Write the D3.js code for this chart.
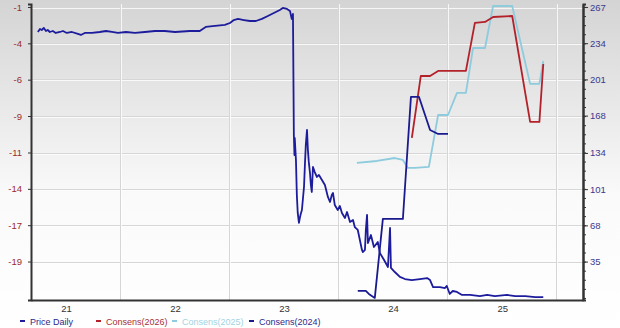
<!doctype html>
<html>
  <head>
    <script src="https://cdnjs.cloudflare.com/ajax/libs/d3/7.8.5/d3.min.js"></script>
    <style>
      body { margin: 0; }
      svg { display: block; font-family: "Liberation Sans", Arial, sans-serif; }
      .grid line { stroke: #d6d6d6; stroke-width: 1; }
      .grid line.hi { stroke: #ffffff; stroke-width: 1; opacity: 0.8; }
      .axis path, .axis line { stroke: #333; }
      .axis path { stroke-width: 2; }
      .axis text { font-size: 9.5px; }
      .left text { fill: #9a2b2b; }
      .right text { fill: #3a3a8e; }
      .bottom text { fill: #333; }
      path.series { fill: none; stroke-width: 1.8; stroke-linejoin: round; }
      .legend text { font-size: 9px; }
    </style>
  </head>
  <body>
    <svg width="620" height="328"></svg>
    <script>
      // price daily (right axis)
      var priceDaily = [
        ["2020-09-29",244.2],["2020-10-06",246.9],["2020-10-12",246.0],["2020-10-19",247.9],
        ["2020-10-26",245.1],["2020-11-01",246.0],["2020-11-08",244.2],["2020-11-18",245.1],
        ["2020-11-28",243.3],["2020-12-12",244.2],["2020-12-22",245.1],["2021-01-04",243.3],
        ["2021-01-21",244.2],["2021-02-10",242.4],["2021-02-20",241.5],["2021-03-05",243.3],
        ["2021-03-29",243.3],["2021-04-24",244.2],["2021-05-15",245.1],["2021-06-04",244.2],
        ["2021-06-24",243.3],["2021-07-21",244.2],["2021-08-20",243.3],["2021-09-22",244.2],
        ["2021-10-26",245.1],["2021-11-28",245.1],["2022-01-01",244.2],["2022-02-20",245.1],
        ["2022-03-25",245.1],["2022-04-14",248.8],["2022-05-15",249.7],["2022-06-17",250.6],
        ["2022-07-04",252.4],["2022-07-17",255.1],["2022-07-31",256.1],["2022-08-20",255.1],
        ["2022-09-09",254.2],["2022-09-29",254.2],["2022-10-19",256.1],["2022-11-08",258.8],
        ["2022-11-28",261.5],["2022-12-18",264.3],["2022-12-28",266.1],["2023-01-11",265.2],
        ["2023-01-21",263.4],["2023-01-24",259.7],["2023-01-27",256.1],["2023-01-31",260.6],
        ["2023-02-03",150.4],["2023-02-05",132.1],["2023-02-06",147.6],["2023-02-10",127.6],
        ["2023-02-13",95.7],["2023-02-16",79.3],["2023-02-20",70.2],["2023-02-23",74.7],
        ["2023-02-26",78.4],["2023-03-02",82.0],["2023-03-05",91.1],["2023-03-09",103.0],
        ["2023-03-12",123.0],["2023-03-15",141.2],["2023-03-19",154.9],["2023-03-22",136.7],
        ["2023-03-25",125.8],["2023-03-29",115.7],["2023-04-01",104.8],["2023-04-04",98.4],
        ["2023-04-08",121.2],["2023-04-14",116.6],["2023-04-21",112.1],["2023-04-28",113.9],
        ["2023-05-08",109.4],["2023-05-18",104.8],["2023-05-28",93.9],["2023-06-04",89.3],
        ["2023-06-10",95.7],["2023-06-14",97.5],["2023-06-20",86.6],["2023-06-30",82.0],
        ["2023-07-07",85.7],["2023-07-14",79.3],["2023-07-24",74.7],["2023-07-31",80.2],
        ["2023-08-10",71.1],["2023-08-20",72.9],["2023-08-26",66.5],["2023-09-05",63.8],
        ["2023-09-12",54.7],["2023-09-19",45.6],["2023-09-22",43.7],["2023-09-29",45.6],
        ["2023-10-02",63.8],["2023-10-06",77.5],["2023-10-09",51.9],["2023-10-19",59.2],
        ["2023-10-29",48.3],["2023-11-11",52.9],["2023-11-18",42.8],["2023-12-02",36.4],
        ["2023-12-15",30.1],["2023-12-18",45.6],["2023-12-22",65.6],["2023-12-25",29.2],
        ["2024-01-07",25.5],["2024-01-24",21.0],["2024-02-10",19.1],["2024-03-04",18.2],
        ["2024-03-31",19.1],["2024-04-24",20.0],["2024-05-04",18.2],["2024-05-14",11.8],
        ["2024-06-06",11.8],["2024-06-23",10.9],["2024-06-29",12.8],["2024-07-09",5.5],
        ["2024-07-19",8.2],["2024-08-02",7.3],["2024-08-19",4.6],["2024-09-15",4.6],
        ["2024-10-18",3.6],["2024-11-11",4.6],["2024-12-07",3.6],["2025-01-17",4.6],
        ["2025-02-13",3.6],["2025-03-19",3.6],["2025-04-21",2.7],["2025-05-18",2.7]
      ];

      // consensus estimates (left axis)
      var consens2026 = [
        ["2024-03-04",-10.46],["2024-04-03",-6.08],["2024-05-04",-6.08],["2024-05-31",-5.72],
        ["2024-09-01",-5.72],["2024-10-01",-2.33],["2024-11-04",-2.26],["2024-12-01",-1.91],
        ["2025-02-03",-1.84],["2025-04-04",-9.33],["2025-05-05",-9.33],["2025-05-18",-5.23]
      ];
      var consens2025 = [
        ["2023-09-02",-12.23],["2023-11-08",-12.09],["2024-01-07",-11.88],["2024-02-03",-12.02],
        ["2024-02-20",-12.58],["2024-03-14",-12.58],["2024-04-30",-12.51],["2024-05-31",-8.84],
        ["2024-07-03",-8.84],["2024-08-02",-7.28],["2024-09-01",-7.28],["2024-09-25",-4.10],
        ["2024-11-04",-4.10],["2024-12-01",-1.13],["2025-02-03",-1.13],["2025-04-04",-6.64],
        ["2025-05-05",-6.64],["2025-05-18",-5.02]
      ];
      var consens2024 = [
        ["2023-09-05",-21.28],["2023-10-02",-21.28],["2023-10-12",-21.49],["2023-11-01",-21.77],
        ["2023-11-28",-16.19],["2024-02-03",-16.19],["2024-03-01",-7.56],["2024-03-28",-7.56],
        ["2024-05-04",-9.90],["2024-05-31",-10.18],["2024-07-03",-10.18]
      ];

      var leftTicks = [-1.2, -3.77, -6.34, -8.91, -11.49, -14.06, -16.63, -19.2];
      var rightTicks = [267, 234, 201, 168, 134, 101, 68, 35];
      var yearTicks = ["2021-01-01", "2022-01-01", "2023-01-01", "2024-01-01", "2025-01-01"];
      var gridDates = ["2021-07-01", "2022-07-01", "2023-07-01", "2024-07-01", "2025-07-01"];

      var legendNames = ["Price Daily", "Consens(2026)", "Consens(2025)", "Consens(2024)"];
      var colors = ["#1c1c9c", "#b3212b", "#8dcbdd", "#1a1a8e"];
      var textColors = ["#2a2a8c", "#a83036", "#a3d3e2", "#2a2a8c"];

      var parse = d3.timeParse("%Y-%m-%d");
      var svg = d3.select("svg");
      var W = 620, H = 328;
      var plotL = 31, plotR = 583, plotT = 4, plotB = 300;

      var defs = svg.append("defs");
      var grad = defs.append("linearGradient").attr("id", "bg")
        .attr("x1", 0).attr("y1", 0).attr("x2", 0).attr("y2", 1);
      grad.append("stop").attr("offset", "0%").attr("stop-color", "#d4d4d4");
      grad.append("stop").attr("offset", "60%").attr("stop-color", "#fafafa");
      grad.append("stop").attr("offset", "100%").attr("stop-color", "#ffffff");
      svg.append("rect").attr("width", W).attr("height", H).attr("fill", "url(#bg)");

      var x = d3.scaleTime()
        .domain([new Date(2020, 8, 6), new Date(2025, 8, 28)])
        .range([plotL, plotR]);
      var yLeft = d3.scaleLinear().domain([-21.92, -0.99]).range([plotB, plotT]);
      var yRight = d3.scaleLinear().domain([0, 269.7]).range([plotB, plotT]);

      // grid
      var grid = svg.append("g").attr("class", "grid");
      rightTicks.forEach(function (v) {
        var yy = Math.round(yRight(v)) + 0.5;
        grid.append("line").attr("x1", plotL).attr("x2", plotR).attr("y1", yy).attr("y2", yy);
        grid.append("line").attr("class", "hi").attr("x1", plotL).attr("x2", plotR).attr("y1", yy + 1).attr("y2", yy + 1);
      });
      gridDates.forEach(function (d) {
        var xx = Math.round(x(parse(d))) + 0.5;
        grid.append("line").attr("x1", xx).attr("x2", xx).attr("y1", plotT).attr("y2", plotB);
        grid.append("line").attr("class", "hi").attr("x1", xx + 1).attr("x2", xx + 1).attr("y1", plotT).attr("y2", plotB);
      });

      // series
      var lineRight = d3.line().x(d => x(parse(d[0]))).y(d => yRight(d[1]));
      var lineLeft = d3.line().x(d => x(parse(d[0]))).y(d => yLeft(d[1]));

      svg.append("path").datum(consens2025).attr("class", "series")
        .attr("stroke", colors[2]).attr("d", lineLeft);
      svg.append("path").datum(consens2026).attr("class", "series")
        .attr("stroke", colors[1]).attr("d", lineLeft);
      svg.append("path").datum(consens2024).attr("class", "series")
        .attr("stroke", colors[3]).attr("d", lineLeft);
      svg.append("path").datum(priceDaily).attr("class", "series")
        .attr("stroke", colors[0]).attr("d", lineRight);

      // axes
      svg.append("g").attr("class", "axis left")
        .attr("transform", "translate(" + plotL + ",0)")
        .call(d3.axisLeft(yLeft).tickValues(leftTicks).tickSize(3).tickPadding(6)
          .tickFormat(d => String(Math.round(d))));

      var minor = d3.range(1.86, 269, 33.143 / 4);
      svg.append("g").attr("class", "axis right")
        .attr("transform", "translate(" + plotR + ",0)")
        .call(d3.axisRight(yRight).tickValues(minor).tickSize(3).tickFormat(""));
      svg.append("g").attr("class", "axis right")
        .attr("transform", "translate(" + plotR + ",0)")
        .call(d3.axisRight(yRight).tickValues(rightTicks).tickSize(5).tickPadding(2)
          .tickSizeOuter(0));

      svg.append("g").attr("class", "axis bottom")
        .attr("transform", "translate(0," + plotB + ")")
        .call(d3.axisBottom(x).tickValues(yearTicks.map(parse)).tickSize(0).tickPadding(5)
          .tickFormat(d3.timeFormat("%y")));

      svg.selectAll(".axis path.domain").attr("stroke-width", 2);

      // legend
      var legendX = [20, 96, 172, 249];
      var legend = svg.append("g").attr("class", "legend");
      legendNames.forEach(function (name, i) {
        legend.append("rect").attr("x", legendX[i]).attr("y", 320).attr("width", 5).attr("height", 2)
          .attr("fill", colors[i]);
        legend.append("text").attr("x", legendX[i] + 10).attr("y", 324.5)
          .attr("fill", textColors[i]).text(name);
      });
    </script>
  </body>
</html>
